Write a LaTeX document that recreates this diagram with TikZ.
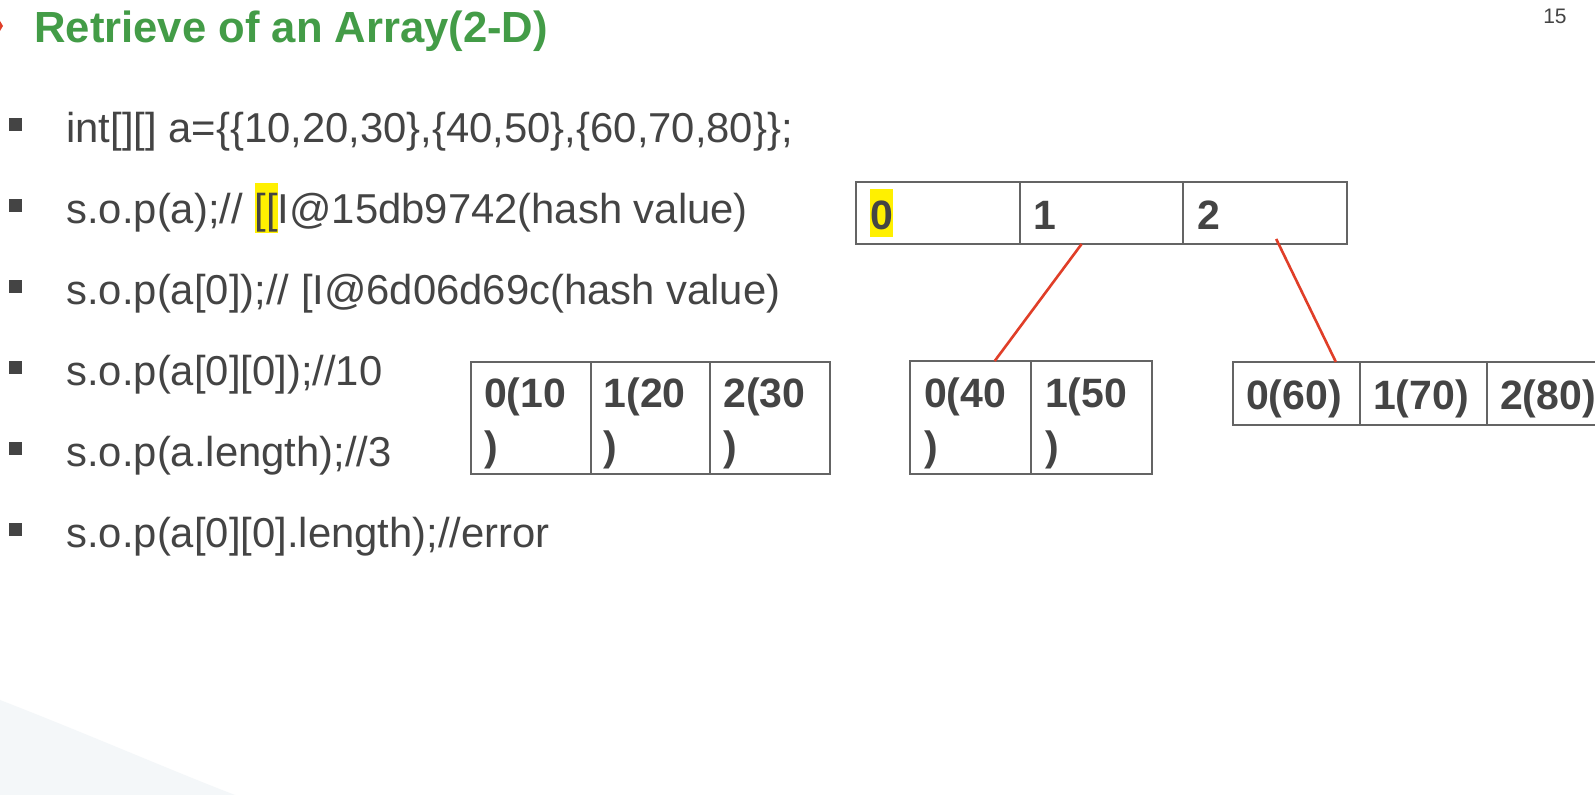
\documentclass[tikz,border=0pt]{standalone}
\usepackage{fontspec}
\setmainfont{Liberation Sans}
\usetikzlibrary{positioning, calc}

\definecolor{titlegreen}{RGB}{67,156,71}
\definecolor{textgray}{RGB}{68,68,68}
\definecolor{boxgray}{RGB}{100,100,100}
\definecolor{linkred}{RGB}{224,62,40}
\definecolor{hlyellow}{RGB}{255,240,0}
\definecolor{swoosh}{RGB}{244,247,249}

\newcommand{\hlmark}[3]{{\setlength{\fboxsep}{0pt}\colorbox{hlyellow}{\rule[-#1]{0pt}{#2}#3}}}
\newcommand{\cellstrut}{\rule[-3.5pt]{0pt}{24pt}}

\begin{document}
\begin{tikzpicture}[
  x=0.5pt, y=-0.5pt,
  title/.style={font=\fontsize{21.8}{26}\selectfont\bfseries, text=titlegreen,
                inner sep=0pt, anchor=base west},
  code/.style={font=\fontsize{20.9}{25}\selectfont, text=textgray,
               inner sep=0pt, anchor=base west},
  bulletsq/.style={fill=textgray, minimum size=6.5pt, inner sep=0pt},
  cell/.style={draw=boxgray, line width=1pt, outer sep=0pt, text=textgray,
               font=\fontsize{20.5}{26.5}\selectfont\bfseries, align=left,
               inner ysep=0pt, text width=#1},
  topcell/.style={cell=67.75pt, inner xsep=7pt, minimum height=31pt},
  rowa/.style={cell=46.85pt, inner xsep=6.5pt, minimum height=56pt},
  rowb/.style={cell=46.5pt, inner xsep=7pt, minimum height=56.5pt},
  rowc/.style={cell=50.5pt, inner xsep=6.5pt, minimum height=31.5pt},
  link/.style={draw=linkred, line width=1.3pt},
  pagenum/.style={font=\fontsize{10.5}{12}\selectfont, text=textgray,
                  inner sep=0pt, anchor=base east},
]
\clip (0,0) rectangle (1595,795);
\fill[white] (0,0) rectangle (1595,795);

% ---------- Slide decoration ----------
\fill[swoosh] (0,700) .. controls (90,735) and (170,770) .. (235,795) -- (0,795) -- cycle;
\fill[linkred] (0,21) -- (3,26) -- (0,31) -- cycle;
\node[pagenum] (page) at (1567,24) {15};

% ---------- Title ----------
\node[title] (head) at (34,43) {Retrieve of an Array(2-D)};

% ---------- Code lines ----------
\node[code] (l1) at (66,143) {int[][] a=\{\{10,20,30\},\{40,50\},\{60,70,80\}\};};
\node[code] (l2) at (66,224) {s.o.p(a);// \hlmark{4pt}{24.5pt}{[[}I@15db9742(hash value)};
\node[code] (l3) at (66,305) {s.o.p(a[0]);// [I@6d06d69c(hash value)};
\node[code] (l4) at (66,386) {s.o.p(a[0][0]);//10};
\node[code] (l5) at (66,467) {s.o.p(a.length);//3};
\node[code] (l6) at (66,548) {s.o.p(a[0][0].length);//error};

\node[bulletsq] (b1) at (15.5,124.5) {};
\node[bulletsq] (b2) at (15.5,205.5) {};
\node[bulletsq] (b3) at (15.5,286.5) {};
\node[bulletsq] (b4) at (15.5,367.5) {};
\node[bulletsq] (b5) at (15.5,448.5) {};
\node[bulletsq] (b6) at (15.5,529.5) {};

% ---------- Outer array a ----------
\node[topcell, anchor=north west] (t0) at (856,182) {\hlmark{3.5pt}{24pt}{0}};
\node[topcell, right=0pt of t0] (t1) {\cellstrut 1};
\node[topcell, right=0pt of t1] (t2) {\cellstrut 2};

% ---------- Inner arrays ----------
\node[rowa, anchor=north west] (r0a) at (471,362) {\cellstrut 0(10\\\cellstrut)};
\node[rowa, right=0pt of r0a] (r0b) {\cellstrut 1(20\\\cellstrut)};
\node[rowa, right=0pt of r0b] (r0c) {\cellstrut 2(30\\\cellstrut)};

\node[rowb, anchor=north west] (r1a) at (910,361) {\cellstrut 0(40\\\cellstrut)};
\node[rowb, right=0pt of r1a] (r1b) {\cellstrut 1(50\\\cellstrut)};

\node[rowc, anchor=north west] (r2a) at (1233,362) {\cellstrut 0(60)};
\node[rowc, right=0pt of r2a] (r2b) {\cellstrut 1(70)};
\node[rowc, right=0pt of r2b] (r2c) {\cellstrut 2(80)};

% ---------- References ----------
\draw[link] ($(t1.south west)!0.38!(t1.south east)$) -- ($(r1a.north west)!0.7!(r1a.north east)$);
\draw[link] ($(t2.south west)!0.57!(t2.south east)+(0,-5)$) -- ($(r2a.north west)!0.81!(r2a.north east)$);

\end{tikzpicture}
\end{document}
